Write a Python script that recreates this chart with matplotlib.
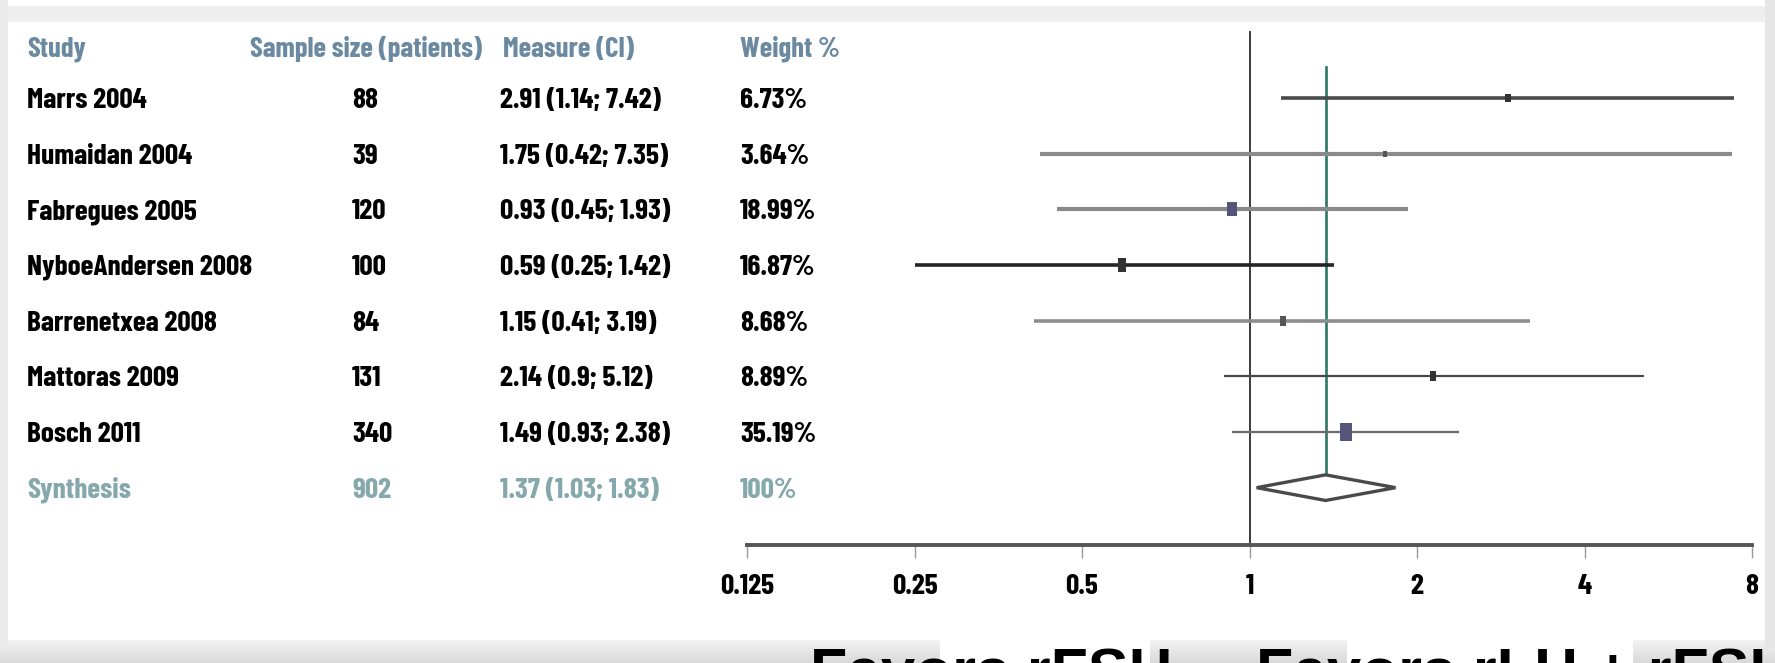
import numpy as np
import matplotlib
matplotlib.use("Agg")
import matplotlib.pyplot as plt
import matplotlib.transforms as mtransforms
from matplotlib import font_manager as fm
from matplotlib.font_manager import FontProperties
from matplotlib.path import Path
from matplotlib.patches import Polygon

# ---------------- data ----------------
studies = ["Marrs 2004", "Humaidan 2004", "Fabregues 2005", "NyboeAndersen 2008",
           "Barrenetxea 2008", "Mattoras 2009", "Bosch 2011"]
sample_sizes = [88, 39, 120, 100, 84, 131, 340]
estimates = [2.91, 1.75, 0.93, 0.59, 1.15, 2.14, 1.49]
ci_low = [1.14, 0.42, 0.45, 0.25, 0.41, 0.90, 0.93]
ci_high = [7.42, 7.35, 1.93, 1.42, 3.19, 5.12, 2.38]
weights = [6.73, 3.64, 18.99, 16.87, 8.68, 8.89, 35.19]

pooled_label = "Synthesis"
pooled_n = 902
pooled_est, pooled_low, pooled_high = 1.37, 1.03, 1.83
pooled_weight = "100%"

headers = ["Study", "Sample size (patients)", "Measure (CI)", "Weight %"]
ticks = [0.125, 0.25, 0.5, 1, 2, 4, 8]
tick_labels = ["0.125", "0.25", "0.5", "1", "2", "4", "8"]
favours_left = "Favors rFSH"
favours_right = "Favors rLH + rFSH"

# ---------------- styles ----------------
line_colors = ["#4a4a4a", "#8a8a8a", "#8a8a8a", "#242424", "#8c8c8c", "#464646", "#6c6c6c"]
line_widths = [2.6, 3.0, 3.0, 2.6, 2.6, 1.6, 1.6]
marker_colors = ["#333333", "#555555", "#55557c", "#333333", "#555555", "#333333", "#55557c"]
header_color = "#6b8aa2"
pooled_color = "#84a8ab"
teal = "#2c7766"

W, H = 1775, 663
DPI = 100


def weight_of(f):
    try:
        return int(f.weight)
    except (TypeError, ValueError):
        return 700 if str(f.weight).lower() in ("bold", "heavy", "black") else 400


def pick_font(names, min_weight=700):
    for name in names:
        if any(f.name == name and weight_of(f) >= min_weight for f in fm.fontManager.ttflist):
            return name
    return "DejaVu Sans"


narrow = pick_font(["Barlow Condensed", "Fira Sans Extra Condensed", "PT Sans Narrow",
                    "Roboto Condensed", "Archivo Narrow", "Liberation Sans Narrow"])
wide = pick_font(["Liberation Sans", "Arimo", "DejaVu Sans"])

fig = plt.figure(figsize=(W / DPI, H / DPI), dpi=DPI)
renderer = fig.canvas.get_renderer()


def measure(s, family, size):
    prop = FontProperties(family=family, weight="bold", size=size)
    return renderer.get_text_width_height_descent(s, prop, ismath=False)


def fit(s, family, target_px):
    return 20.0 * target_px / measure(s, family, 20.0)[0]


row_size = fit("Marrs 2004", narrow, 120)
head_size = fit("Sample size (patients)", narrow, 233)
fav_size = fit("rFSH", wide, 146)
cap_row = measure("H", narrow, row_size)[1]
cap_head = measure("H", narrow, head_size)[1]
cap_fav = measure("H", wide, fav_size)[1]

# ---------------- background frame ----------------
bg = np.ones((H, W))
bg[6:22, :] = 0.93
bg[:, :8] = np.minimum(bg[:, :8], 0.92)
bg[:, W - 10:] = np.minimum(bg[:, W - 10:], 0.90)
band = np.linspace(0.95, 0.85, H - 640)[:, None]
bg[640:, :] = np.minimum(bg[640:, :], band)
bg[618:, 940:1150] = 1.0
bg[620:, 1347:1633] = 1.0
ax_bg = fig.add_axes([0, 0, 1, 1], zorder=-5)
ax_bg.imshow(bg, cmap="gray", vmin=0, vmax=1, extent=[0, W, H, 0], aspect="auto",
             interpolation="bilinear")
ax_bg.axis("off")

# ---------------- forest axes ----------------
x0, x1 = 747, 1752
y_top, y_axis = 20, 545
ax = fig.add_axes([x0 / W, 1 - y_axis / H, (x1 - x0) / W, (y_axis - y_top) / H])
ax.patch.set_alpha(0)
ax.set_xscale("log", base=2)
ax.set_xlim(0.125, 8)
ax.set_ylim(8.03, -1.40)
ax.set_xticks(ticks)
ax.set_xticklabels(tick_labels)
ax.xaxis.set_minor_locator(matplotlib.ticker.NullLocator())
ax.set_yticks([])
for side in ("top", "left", "right"):
    ax.spines[side].set_visible(False)
ax.spines["bottom"].set_color("#555555")
ax.spines["bottom"].set_linewidth(2.8)
ax.tick_params(axis="x", direction="out", length=9, width=1.0, color="#9a9a9a",
               pad=0, labelsize=row_size, labelcolor="black")
# place tick labels so their digits are centred 47 px below the axis line
lab_offset = mtransforms.ScaledTranslation(0, -(47 - cap_row / 2) / DPI, fig.dpi_scale_trans)
for lab in ax.get_xticklabels():
    lab.set_fontfamily(narrow)
    lab.set_fontweight("bold")
    lab.set_verticalalignment("baseline")
    lab.set_transform(lab.get_transform() + lab_offset)

# reference line at 1 and pooled estimate line
ax.plot([1, 1], [-1.18, 8.03], color="#3c3c3c", lw=1.4, zorder=2, clip_on=False)
ax.plot([pooled_est, pooled_est], [-0.556, 7 - 0.23], color=teal, lw=1.9, zorder=3)

# study confidence intervals and point estimates
box = Path([[-0.33, -0.5], [0.33, -0.5], [0.33, 0.5], [-0.33, 0.5], [-0.33, -0.5]])
for i in range(len(studies)):
    ax.plot([ci_low[i], ci_high[i]], [i, i], color=line_colors[i], lw=line_widths[i],
            solid_capstyle="butt", zorder=4)
    ax.plot(estimates[i], i, marker=box, ms=2.3 * np.sqrt(weights[i]),
            color=marker_colors[i], mew=0, zorder=5)

# pooled diamond
yp = len(studies)
diamond = Polygon([[pooled_low, yp], [pooled_est, yp - 0.23], [pooled_high, yp],
                   [pooled_est, yp + 0.23]], closed=True, facecolor="white",
                  edgecolor="#4a4a4a", lw=2.4, zorder=6)
ax.add_patch(diamond)

# ---------------- table columns ----------------
row_tr = mtransforms.blended_transform_factory(fig.transFigure, ax.transData)
row_base = mtransforms.offset_copy(row_tr, fig=fig, y=-cap_row / 2, units="dots")
head_base = mtransforms.offset_copy(row_tr, fig=fig, y=-cap_head / 2, units="dots")

col_x = [27 / W, 250 / W, 503 / W, 740 / W]
val_x = [27 / W, 352 / W, 500 / W, 740 / W]
y_head = -0.92

for cx, htxt in zip(col_x, headers):
    fig.text(cx, y_head, htxt, transform=head_base, ha="left", va="baseline",
             family=narrow, weight="bold", size=head_size, color=header_color)

for i in range(len(studies)):
    cells = [studies[i], str(sample_sizes[i]),
             f"{estimates[i]:g} ({ci_low[i]:g}; {ci_high[i]:g})", f"{weights[i]:.2f}%"]
    for cx, txt in zip(val_x, cells):
        fig.text(cx, i, txt, transform=row_base, ha="left", va="baseline",
                 family=narrow, weight="bold", size=row_size, color="black")

pooled_cells = [pooled_label, str(pooled_n),
                f"{pooled_est:g} ({pooled_low:g}; {pooled_high:g})", pooled_weight]
for cx, txt in zip(val_x, pooled_cells):
    fig.text(cx, yp, txt, transform=row_base, ha="left", va="baseline",
             family=narrow, weight="bold", size=row_size, color=pooled_color)

# ---------------- favours captions ----------------
baseline_y = 1 - (649 + cap_fav) / H
lead = measure("Favors r", wide, fav_size)[0] - measure("r", wide, fav_size)[0]
for x_r, txt in ((1027, favours_left), (1473, favours_right)):
    fig.text((x_r - lead) / W, baseline_y, txt, ha="left", va="baseline",
             family=wide, weight="bold", size=fav_size, color="black")

fig.savefig("out.png", dpi=DPI)
